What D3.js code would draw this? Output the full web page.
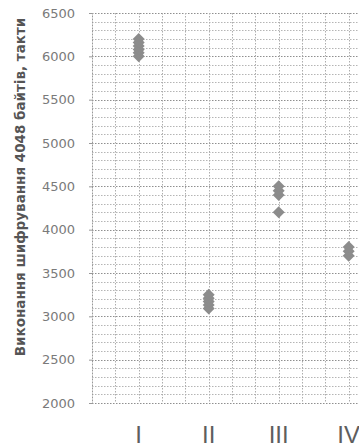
<!DOCTYPE html>
<html>
<head>
<meta charset="utf-8">
<script src="https://cdn.jsdelivr.net/npm/d3@7"></script>
<style>
    html, body { margin: 0; padding: 0; background: #fff; }
    svg { display: block; }
</style>
</head>
<body>
<svg id="chart" width="359" height="447"></svg>
<script>
// categories and measured cycles per run
const categories = ["I", "II", "III", "IV"];
const seriesI = [6000, 6040, 6080, 6120, 6160, 6200];
const seriesII = [3090, 3130, 3170, 3210, 3250];
const seriesIII = [4200, 4400, 4450, 4500];
const seriesIV = [3700, 3750, 3800];
const yTicks = [2000, 2500, 3000, 3500, 4000, 4500, 5000, 5500, 6000, 6500];
const yLabel = "Виконання шифрування 4048 байтів, такти";

const series = [seriesI, seriesII, seriesIII, seriesIV];

const width = 359, height = 447;
const mLeft = 92, mTop = 13, mBottom = 403;

const svg = d3.select("#chart");

const y = d3.scaleLinear().domain([2000, 6500]).range([mBottom, mTop]);
// one category per unit, three grid cells per category
const x = d3.scaleLinear().domain([1 / 3, 1 / 3 + (width - mLeft) / 70]).range([mLeft, width]);

const grid = svg.append("g");

// horizontal grid, every 100
const hVals = d3.range(2000, 6501, 100);
grid.selectAll("line.h")
    .data(hVals)
    .join("line")
    .attr("x1", mLeft)
    .attr("x2", width)
    .attr("y1", d => Math.round(y(d)) + 0.5)
    .attr("y2", d => Math.round(y(d)) + 0.5)
    .attr("stroke", d => d % 500 === 0 ? "#8f8f8f" : "#b5b5b5")
    .attr("stroke-dasharray", "1.5,1.5")
    .attr("stroke-width", 1);

// vertical grid, every third of a category
const vVals = d3.range(1, 16).map(i => i / 3).filter(v => x(v) <= width);
grid.selectAll("line.v")
    .data(vVals)
    .join("line")
    .attr("x1", d => Math.round(x(d)) + 0.5)
    .attr("x2", d => Math.round(x(d)) + 0.5)
    .attr("y1", mTop)
    .attr("y2", mBottom)
    .attr("stroke", "#adadad")
    .attr("stroke-dasharray", "1.5,1.5")
    .attr("stroke-width", 1);

// y axis
const yAxis = svg.append("g")
    .attr("transform", `translate(${mLeft},0)`)
    .call(d3.axisLeft(y).tickValues(yTicks).tickSize(3).tickPadding(14).tickFormat(d3.format("d")));
yAxis.select(".domain").attr("stroke", "#999").attr("stroke-dasharray", "1.5,1.5");
yAxis.selectAll(".tick line").attr("stroke", "#999");
yAxis.selectAll(".tick text")
    .attr("fill", "#7a7a7a")
    .style("font", "13px 'DejaVu Sans', sans-serif");

// category labels
svg.append("g")
    .selectAll("text")
    .data(categories)
    .join("text")
    .attr("x", (d, i) => x(i + 1))
    .attr("y", 443)
    .attr("text-anchor", "middle")
    .attr("fill", "#5e5e5e")
    .style("font", "24px 'Liberation Sans Narrow', 'Liberation Sans', sans-serif")
    .text(d => d);

// y axis title
svg.append("text")
    .attr("transform", `translate(25,187) rotate(-90)`)
    .attr("text-anchor", "middle")
    .attr("fill", "#555")
    .style("font", "bold 13.5px 'DejaVu Sans', sans-serif")
    .text(yLabel);

// points
const diamond = "M0,-6L6,0L0,6L-6,0Z";
const pts = series.flatMap((vals, i) => vals.map(v => ({ cat: i + 1, v })));
svg.append("g")
    .selectAll("path")
    .data(pts)
    .join("path")
    .attr("d", diamond)
    .attr("transform", d => `translate(${x(d.cat)},${y(d.v)})`)
    .attr("fill", "#8c8c8c");
</script>
</body>
</html>
